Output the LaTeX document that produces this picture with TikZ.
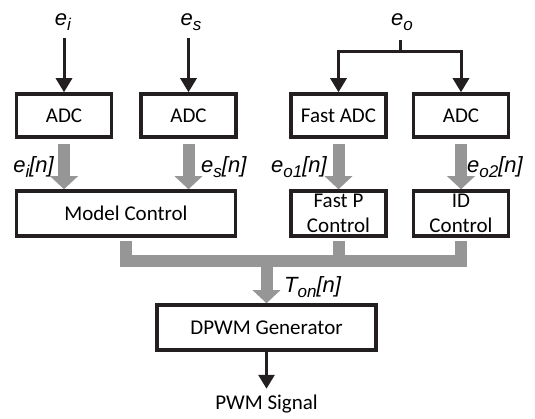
\documentclass[tikz,border=0pt]{standalone}
\usepackage{fontspec}
\setmainfont{Carlito}
\newfontfamily\labelfont{Liberation Sans}
\usetikzlibrary{arrows.meta}

\definecolor{edge}{RGB}{35,31,32}
\definecolor{busgray}{RGB}{150,150,150}

% lowered index for the signal names
\newcommand\lowidx[1]{\raisebox{-5pt}{\fontsize{17}{17}\selectfont #1}}

\begin{document}
\begin{tikzpicture}[
    x=1pt, y=-1pt,
    font=\fontsize{21}{25}\selectfont,
    box/.style={
        rectangle, draw=edge, line width=3.5pt,
        align=center, minimum width=95pt, minimum height=43pt,
        inner sep=1pt
    },
    wide/.style={box, minimum width=219pt},
    sig/.style={-{Triangle[width=16pt,length=14pt]}, draw=edge, line width=3pt},
    wire/.style={draw=edge, line width=3pt},
    bus/.style={draw=busgray, line width=12pt},
    busarrow/.style={bus, -{Triangle[width=27pt,length=13pt]}},
    sym/.style={font=\labelfont\itshape\fontsize{22}{24}\selectfont, inner sep=0pt},
]
    \useasboundingbox (0,0) rectangle (535,419);

    % Column x-coordinates (pixel grid of the original).
    \def\xI{64}
    \def\xS{188.5}
    \def\xOa{338.5}
    \def\xOb{461}
    \def\xMid{266.5}

    % Row y-coordinates.
    \def\yAdc{115.5}
    \def\yCtrl{213.5}
    \def\yBus{261.5}
    \def\yGen{327.5}

    % ---------- converters ----------
    \node[box] (adci) at (\xI, \yAdc) {ADC};
    \node[box] (adcs) at (\xS, \yAdc) {ADC};
    \node[box] (fastadc) at (\xOa, \yAdc) {Fast ADC};
    \node[box] (adco) at (\xOb, \yAdc) {ADC};

    % ---------- controllers ----------
    \node[wide, minimum height=45pt] (model) at (126, \yCtrl) {Model Control};
    \node[box, minimum height=45pt] (fastp) at (\xOa, \yCtrl) {Fast P\\Control};
    \node[box, minimum height=45pt] (idctrl) at (\xOb, \yCtrl) {ID\\Control};

    % ---------- generator ----------
    \node[wide, minimum height=45pt] (dpwm) at (\xMid, \yGen) {DPWM Generator};
    \node (pwm) at (\xMid, 404) {PWM Signal};

    % ---------- analog inputs ----------
    \node[sym] (ei) at (63, 22) {e\lowidx{i}};
    \node[sym] (es) at (191, 22) {e\lowidx{s}};
    \node[sym] (eo) at (402, 22) {e\lowidx{o}};

    \draw[sig] ([yshift=54pt]adci.north) -- (adci.north);
    \draw[sig] ([yshift=54pt]adcs.north) -- (adcs.north);

    \coordinate (eofork) at (400, 52);
    \draw[wire] (eofork) -- ++(0,-12);
    \draw[sig] (eofork) -| (fastadc.north);
    \draw[sig] (eofork) -| (adco.north);

    % ---------- digital samples ----------
    \draw[busarrow] ([yshift=-5pt]adci.south) -- (model.north -| adci);
    \draw[busarrow] ([yshift=-5pt]adcs.south) -- (model.north -| adcs);
    \draw[busarrow] ([yshift=-5pt]fastadc.south) -- (fastp.north);
    \draw[busarrow] ([yshift=-5pt]adco.south) -- (idctrl.north);

    \node[sym, anchor=east] (eisamp) at (54, 167) {e\lowidx{i}[n]};
    \node[sym, anchor=west] (essamp) at (201, 167) {e\lowidx{s}[n]};
    \node[sym, anchor=east] (eoasamp) at (327, 167) {e\lowidx{o1}[n]};
    \node[sym, anchor=west] (eobsamp) at (467, 167) {e\lowidx{o2}[n]};

    % ---------- summing bus ----------
    \coordinate (tap) at (\xMid, \yBus);
    \draw[bus] ([yshift=-3pt]model.south) |- (tap) -| ([yshift=-3pt]idctrl.south);
    \draw[bus] ([yshift=-3pt]fastp.south) -- (fastp.south |- tap);
    \draw[busarrow] (tap) -- (dpwm.north);
    \node[sym, anchor=west] (ton) at (284, 287) {T\lowidx{on}[n]};

    \draw[sig] (dpwm.south) -- ([yshift=-37pt]dpwm.south);

\end{tikzpicture}
\end{document}
